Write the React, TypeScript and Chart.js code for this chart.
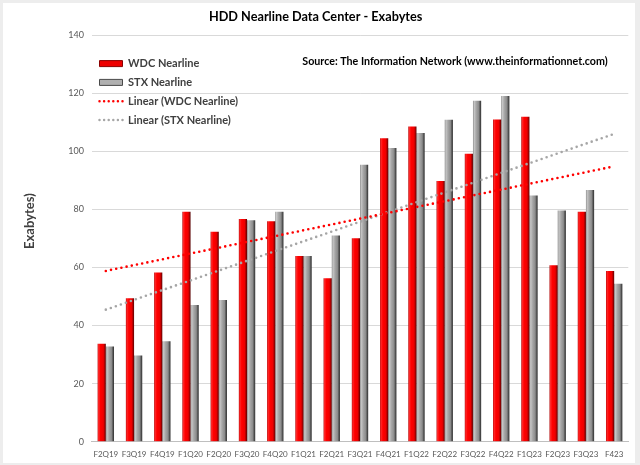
import React, { useEffect, useRef } from 'react';
import { Chart, registerables } from 'chart.js';

Chart.register(...registerables);

// ---------- data ----------
const categories = [
  'F2Q19', 'F3Q19', 'F4Q19', 'F1Q20', 'F2Q20', 'F3Q20', 'F4Q20',
  'F1Q21', 'F2Q21', 'F3Q21', 'F4Q21', 'F1Q22', 'F2Q22', 'F3Q22',
  'F4Q22', 'F1Q23', 'F2Q23', 'F3Q23', 'F423',
];
const wdcNearline = [
  33.7, 49.4, 58.3, 79.2, 72.3, 76.7, 75.9, 64.0, 56.3, 70.1,
  104.5, 108.6, 89.8, 99.2, 111.0, 111.9, 60.8, 79.2, 58.8,
];
const stxNearline = [
  32.8, 29.7, 34.6, 47.1, 48.8, 76.3, 79.2, 64.0, 71.0, 95.4,
  101.2, 106.3, 110.9, 117.4, 119.1, 84.8, 79.6, 86.7, 54.4,
];
const yMin = 0;
const yMax = 140;
const yStep = 20;

const seriesLabels = ['WDC Nearline', 'STX Nearline', 'Linear (WDC Nearline)', 'Linear (STX Nearline)'];
const TITLE = 'HDD Nearline Data Center - Exabytes';
const SOURCE = 'Source: The Information Network (www.theinformationnet.com)';
const Y_TITLE = '           Exabytes)';

const FONT = "Lato, 'Liberation Sans', sans-serif";

// least-squares linear trend (as Excel's "Linear" trendline)
function linearFit(values: number[]): number[] {
  const n = values.length;
  const mx = (n - 1) / 2;
  const my = values.reduce((a, b) => a + b, 0) / n;
  let sxy = 0;
  let sxx = 0;
  values.forEach((v, i) => {
    sxy += (i - mx) * (v - my);
    sxx += (i - mx) * (i - mx);
  });
  const b = sxy / sxx;
  return values.map((_, i) => my + b * (i - mx));
}

const redStops: [number, string][] = [
  [0, '#b00000'], [0.12, '#ff2a2a'], [0.35, '#ff0000'], [0.7, '#ee0000'], [0.86, '#a80000'], [1, '#560000'],
];
const grayStops: [number, string][] = [
  [0, '#8a8a8a'], [0.15, '#c6c6c6'], [0.4, '#a6a6a6'], [0.7, '#8c8c8c'], [0.86, '#555555'], [1, '#2e2e2e'],
];

const barShade = {
  id: 'barShade',
  beforeDatasetsDraw(chart: any) {
    const ctx = chart.ctx;
    chart.data.datasets.forEach((_ds: any, di: number) => {
      const meta = chart.getDatasetMeta(di);
      if (meta.type !== 'bar') return;
      const stops = di === 0 ? redStops : grayStops;
      meta.data.forEach((el: any) => {
        const { x, width } = el.getProps(['x', 'width'], true);
        const g = ctx.createLinearGradient(x - width / 2, 0, x + width / 2, 0);
        stops.forEach(([o, c]) => g.addColorStop(o, c));
        el.options.backgroundColor = g;
      });
    });
  },
};

const sourceText = {
  id: 'sourceText',
  afterDraw(chart: any) {
    const { ctx, chartArea } = chart;
    ctx.save();
    ctx.font = `bold 10.7px ${FONT}`;
    ctx.fillStyle = '#000000';
    ctx.textAlign = 'center';
    ctx.textBaseline = 'middle';
    ctx.fillText(SOURCE, chartArea.left + chartArea.width * 0.677, chartArea.top + 26.4);
    ctx.restore();
  },
};

export default function App() {
  const canvasRef = useRef<HTMLCanvasElement | null>(null);

  useEffect(() => {
    const canvas = canvasRef.current;
    if (!canvas) return;
    const wdcTrend = linearFit(wdcNearline);
    const stxTrend = linearFit(stxNearline);

    const chart = new Chart(canvas, {
      type: 'bar',
      data: {
        labels: categories,
        datasets: [
          {
            type: 'bar',
            label: seriesLabels[0],
            data: wdcNearline,
            backgroundColor: () => '#ff0000',
            borderWidth: 0,
            barPercentage: 1,
            categoryPercentage: 0.58,
            order: 1,
          } as any,
          {
            type: 'bar',
            label: seriesLabels[1],
            data: stxNearline,
            backgroundColor: () => '#a6a6a6',
            borderWidth: 0,
            barPercentage: 1,
            categoryPercentage: 0.58,
            order: 1,
          } as any,
          {
            type: 'line',
            label: seriesLabels[2],
            data: wdcTrend,
            borderColor: '#ff0000',
            backgroundColor: '#ff0000',
            borderWidth: 2.6,
            borderDash: [0, 5.3],
            borderCapStyle: 'round',
            pointRadius: 0,
            fill: false,
            order: 0,
          } as any,
          {
            type: 'line',
            label: seriesLabels[3],
            data: stxTrend,
            borderColor: '#a6a6a6',
            backgroundColor: '#a6a6a6',
            borderWidth: 2.6,
            borderDash: [0, 5.3],
            borderCapStyle: 'round',
            pointRadius: 0,
            fill: false,
            order: 0,
          } as any,
        ],
      },
      options: {
        responsive: false,
        animation: false,
        devicePixelRatio: 1,
        layout: { padding: { left: 0, right: 6.7, top: 0, bottom: 0 } },
        plugins: {
          title: {
            display: true,
            text: TITLE,
            color: '#000000',
            font: { family: FONT, size: 12.7, weight: 'bold' },
            padding: { top: 6, bottom: 11 },
          },
          legend: {
            position: 'chartArea',
            align: 'start',
            title: { display: true, text: ' ', font: { size: 10 }, padding: { top: 34.3, bottom: 1 } },
            labels: {
              usePointStyle: true,
              pointStyleWidth: 23,
              boxHeight: 6,
              padding: 7.8,
              color: '#404040',
              font: { family: FONT, size: 11, weight: 'bold' },
              generateLabels: (chart: any) =>
                chart.data.datasets.map((ds: any, i: number) => {
                  const isBar = i < 2;
                  return {
                    text: ds.label,
                    datasetIndex: i,
                    hidden: false,
                    fontColor: '#404040',
                    pointStyle: isBar ? 'rect' : 'line',
                    fillStyle: isBar ? (i === 0 ? '#ee0000' : '#b0b0b0') : ds.borderColor,
                    strokeStyle: isBar ? (i === 0 ? '#8a0000' : '#4a4a4a') : ds.borderColor,
                    lineWidth: isBar ? 1 : 2.5,
                    lineDash: isBar ? [] : [0, 4.6],
                    lineCap: isBar ? 'butt' : 'round',
                  };
                }),
            },
          },
          tooltip: { enabled: false },
        },
        scales: {
          x: {
            offset: true,
            grid: { display: false, drawTicks: false },
            border: { display: true, color: '#bfbfbf', width: 1 },
            ticks: {
              color: '#595959',
              font: { family: FONT, size: 8 },
              maxRotation: 0,
              autoSkip: false,
              padding: 7.5,
            },
            afterFit: (scale: any) => {
              scale.height = 21.3;
            },
          },
          y: {
            min: yMin,
            max: yMax,
            grid: { color: '#d9d9d9', lineWidth: 1, drawTicks: false },
            border: { display: false },
            ticks: {
              stepSize: yStep,
              color: '#595959',
              font: { family: FONT, size: 9 },
              padding: 7.7,
            },
            title: {
              display: true,
              text: Y_TITLE,
              color: '#404040',
              font: { family: FONT, size: 13, weight: 'bold' },
              padding: { top: 19.2, bottom: 0 },
            },
            afterFit: (scale: any) => {
              scale.width = 88.7;
            },
          },
        },
      } as any,
      plugins: [barShade, sourceText],
    });

    return () => chart.destroy();
  }, []);

  return (
    <div
      style={{
        position: 'fixed',
        left: 0,
        top: 0,
        width: 640,
        height: 465,
        background: '#ededed',
      }}
    >
      <canvas
        ref={canvasRef}
        width={632}
        height={460}
        style={{ position: 'absolute', left: 3, top: 3, width: 632, height: 460, background: '#ffffff' }}
      />
    </div>
  );
}
